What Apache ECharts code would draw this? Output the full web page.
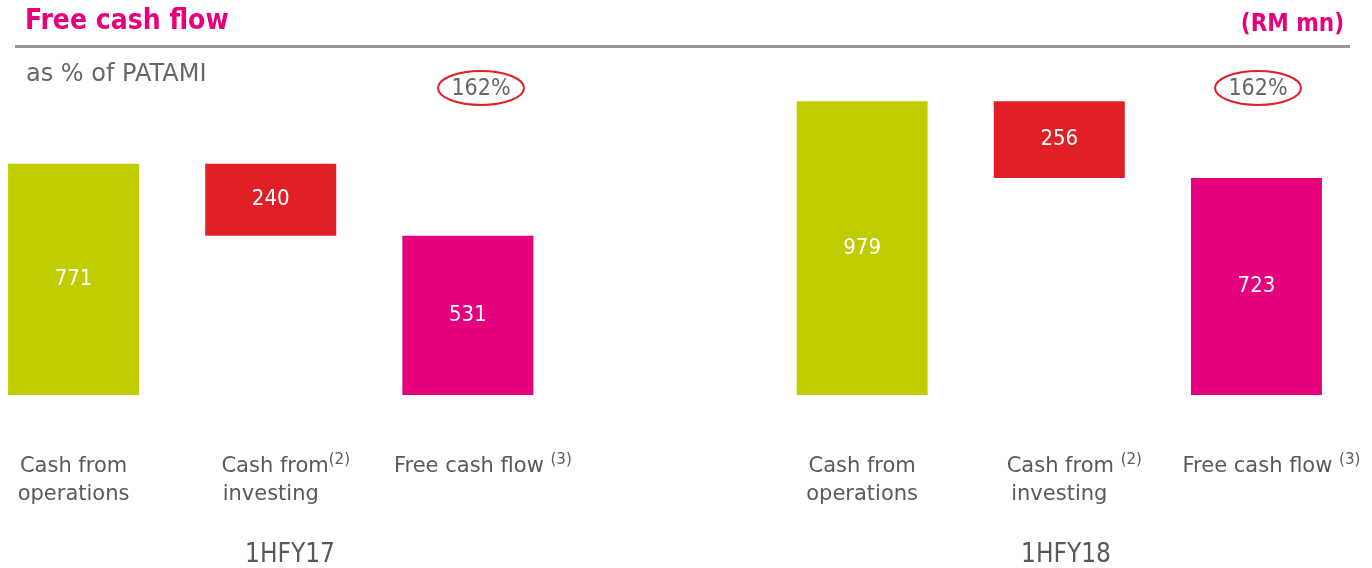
<!DOCTYPE html>
<html><head><meta charset="utf-8">
<script src="https://cdn.jsdelivr.net/npm/echarts@6/dist/echarts.min.js"></script>
<style>html,body{margin:0;padding:0;background:#fff}#c{width:1372px;height:568px}</style>
</head><body><div id="c"></div>
<script>
const periods = ['1HFY17', '1HFY18'];
const categories = ['ops17', 'inv17', 'fcf17', 'gap', 'ops18', 'inv18', 'fcf18'];
const cashFromOperations = [771, 979];
const cashFromInvesting = [240, 256];
const freeCashFlow = [531, 723];
const fcfPctPatami = ['162%', '162%'];
const axisLabels = [
  'Cash from\noperations',
  '{sp|}Cash from{sup|(2)}\ninvesting',
  '{sp|}Free cash flow {sup|(3)}',
  '',
  'Cash from\noperations',
  '{sp|}Cash from {sup|(2)}\ninvesting',
  '{sp|}Free cash flow {sup|(3)}'
];

const FONT = 'DejaVu Sans';
const FONTC = 'DejaVu Sans Condensed';
const GREEN = '#BFCC00', RED = '#E11F26', PINK = '#E6007E';

// build waterfall data
const baseData = [], valData = [];
for (let g = 0; g < 2; g++) {
  const ops = cashFromOperations[g], inv = cashFromInvesting[g], fcf = freeCashFlow[g];
  baseData.push(0, ops - inv, 0);
  valData.push({value: ops, itemStyle: {color: GREEN}},
               {value: inv, itemStyle: {color: RED}},
               {value: fcf, itemStyle: {color: PINK}});
  if (g === 0) { baseData.push('-'); valData.push('-'); }
}

const chart = echarts.init(document.getElementById('c'), null, {renderer: 'canvas'});
chart.setOption({
  animation: false,
  grid: {left: -25, right: 17, top: 95, bottom: 173, containLabel: false, outerBoundsMode: 'none'},
  xAxis: {
    type: 'category', data: categories,
    axisLine: {show: false}, axisTick: {show: false},
    axisLabel: {
      interval: 0, margin: 58,
      formatter: (v, i) => axisLabels[i],
      color: '#595959', fontFamily: FONT, fontSize: 21, lineHeight: 28,
      rich: {
        sup: {fontSize: 15, fontFamily: FONT, color: '#595959', verticalAlign: 'top', lineHeight: 28, padding: [0, 0, 12, 0]},
        sp: {width: 30}
      }
    }
  },
  yAxis: {type: 'value', min: 0, max: 1000, show: false, splitLine: {show: false}},
  series: [
    {type: 'bar', stack: 'w', data: baseData, barWidth: 131, itemStyle: {color: 'transparent'}, silent: true},
    {type: 'bar', stack: 'w', data: valData, barWidth: 131,
     label: {show: true, position: 'inside', color: '#fff', fontFamily: FONTC, fontSize: 22}}
  ],
  graphic: [
    {type: 'text', left: 25, top: 8, style: {text: 'Free cash flow', font: 'bold 28px "' + FONTC + '"', fill: PINK}},
    {type: 'text', right: 28, top: 13, style: {text: '(RM mn)', font: 'bold 24px "' + FONTC + '"', fill: PINK}},
    {type: 'rect', shape: {x: 15, y: 45, width: 1335, height: 3}, style: {fill: '#969696'}},
    {type: 'text', left: 26, top: 63, style: {text: 'as % of PATAMI', font: '24px "' + FONT + '"', fill: '#666'}},
    {type: 'ellipse', shape: {cx: 481, cy: 88, rx: 43, ry: 17}, style: {fill: 'none', stroke: RED, lineWidth: 2}},
    {type: 'text', x: 481, y: 89, style: {text: fcfPctPatami[0], font: '23px "' + FONTC + '"', fill: '#666', align: 'center', verticalAlign: 'middle'}},
    {type: 'ellipse', shape: {cx: 1258, cy: 88, rx: 43, ry: 17}, style: {fill: 'none', stroke: RED, lineWidth: 2}},
    {type: 'text', x: 1258, y: 89, style: {text: fcfPctPatami[1], font: '23px "' + FONTC + '"', fill: '#666', align: 'center', verticalAlign: 'middle'}},
    {type: 'text', x: 290, y: 555, style: {text: periods[0], font: '26px "' + FONTC + '"', fill: '#595959', align: 'center', verticalAlign: 'middle'}},
    {type: 'text', x: 1066, y: 555, style: {text: periods[1], font: '26px "' + FONTC + '"', fill: '#595959', align: 'center', verticalAlign: 'middle'}}
  ]
});
</script></body></html>
